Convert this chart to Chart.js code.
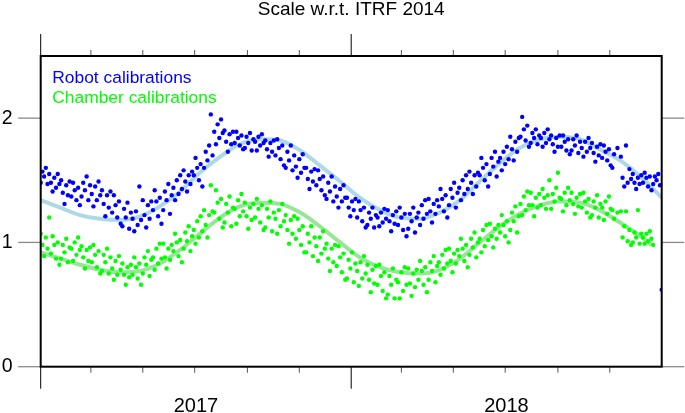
<!DOCTYPE html>
<html><head><meta charset="utf-8">
<script src="https://cdn.jsdelivr.net/npm/chart.js@4/dist/chart.umd.min.js"></script>
<style>html,body{margin:0;padding:0;background:#fff}canvas{display:block}</style>
</head><body>
<canvas id="c" width="685" height="413"></canvas>
<script>
const chartTitle = 'Scale w.r.t. ITRF 2014';
const seriesNames = ['Robot calibrations', 'Chamber calibrations'];
const yTicks = [0, 1, 2];
const yearTicks = [0, 365];
const monthTicks = [59, 120, 181, 243, 304, 424, 485, 546, 608, 669];
const yearLabels = ['2017', '2018'];
const yearLabelDays = [182.5, 547.5];

// observation days since 2017-01-01
const obsDay = [
0,2,4,6,8,10, 12,14,16,18,20,22, 24,26,28,30,32,34, 36,38,40,42,44,46, 48,50,52,54,56,58,
60,62,64,66,68,70, 72,74,76,78,80,82, 84,86,88,90,92,94, 96,98,100,102,104,106, 108,110,112,114,116,118,
120,122,124,126,128,130, 132,134,136,138,140,142, 144,146,148,150,152,154, 156,158,160,162,164,166, 168,170,172,174,176,178,
180,182,184,186,188,190, 192,194,196,198,200,202, 204,206,208,210,212,214, 216,218,220,222,224,226, 228,230,232,234,236,238,
240,242,244,246,248,250, 252,254,256,258,260,262, 264,266,268,270,272,274, 276,278,280,282,284,286, 288,290,292,294,296,298,
300,302,304,306,308,310, 312,314,316,318,320,322, 324,326,328,330,332,334, 336,338,340,342,344,346, 348,350,352,354,356,358,
360,362,364,366,368,370, 372,374,376,378,380,382, 384,386,388,390,392,394, 396,398,400,402,404,406, 408,410,412,414,416,418,
420,422,424,426,428,430, 432,434,436,438,440,442, 444,446,448,450,452,454, 456,458,460,462,464,466, 468,470,472,474,476,478,
480,482,484,486,488,490, 492,494,496,498,500,502, 504,506,508,510,512,514, 516,518,520,522,524,526, 528,530,532,534,536,538,
540,542,544,546,548,550, 552,554,556,558,560,562, 564,566,568,570,572,574, 576,578,580,582,584,586, 588,590,592,594,596,598,
600,602,604,606,608,610, 612,614,616,618,620,622, 624,626,628,630,632,634, 636,638,640,642,644,646, 648,650,652,654,656,658,
660,662,664,666,668,670, 672,674,676,678,680,682, 684,686,688,690,692,694, 696,698,700,702,704,706, 708,710,712,714,716,718,
720,722,724,726,728,730
];

const robotScale = [
1.48,1.57,1.53,1.60,1.47,1.55, 1.48,1.41,1.52,1.44,1.55,1.47, 1.50,1.40,1.31,1.46,1.38,1.49, 1.37,1.48,1.42,1.34,1.44,1.30, 1.37,1.48,1.42,1.53,1.34,1.46,
1.39,1.29,1.45,1.34,1.49,1.38, 1.42,1.31,1.21,1.38,1.28,1.41, 1.24,1.38,1.30,1.20,1.33,1.15, 1.13,1.27,1.20,1.32,1.11,1.24, 1.19,1.09,1.25,1.14,1.45,1.18,
1.34,1.22,1.12,1.30,1.19,1.33, 1.26,1.42,1.33,1.21,1.36,1.15, 1.26,1.41,1.34,1.47,1.23,1.38, 1.44,1.34,1.50,1.39,1.54,1.43, 1.58,1.49,1.41,1.54,1.47,1.57,
1.54,1.68,1.60,1.50,1.63,1.45, 1.60,1.73,1.66,1.78,2.03,1.70, 1.89,1.79,1.95,1.84,1.99,1.88, 1.90,1.81,1.73,1.87,1.79,1.89, 1.80,1.89,1.84,1.78,1.86,1.75,
1.76,1.85,1.80,1.88,1.74,1.83, 1.81,1.74,1.85,1.78,1.87,1.80, 1.82,1.75,1.69,1.80,1.73,1.82, 1.70,1.83,1.76,1.67,1.78,1.62, 1.60,1.73,1.66,1.78,1.58,1.70,
1.61,1.52,1.67,1.56,1.71,1.60, 1.60,1.51,1.43,1.57,1.49,1.59, 1.46,1.58,1.51,1.42,1.53,1.38, 1.35,1.48,1.41,1.53,1.33,1.45, 1.37,1.28,1.43,1.33,1.46,1.36,
1.36,1.28,1.21,1.33,1.26,1.35, 1.20,1.33,1.26,1.17,1.28,1.12, 1.14,1.24,1.19,1.28,1.12,1.22, 1.20,1.13,1.24,1.16,1.27,1.19, 1.26,1.17,1.09,1.22,1.15,1.25,
1.14,1.28,1.20,1.10,1.23,1.05, 1.11,1.23,1.17,1.28,1.08,1.20, 1.24,1.14,1.30,1.19,1.34,1.23, 1.35,1.25,1.16,1.31,1.23,1.34, 1.29,1.43,1.35,1.25,1.38,1.20,
1.30,1.43,1.36,1.48,1.28,1.40, 1.44,1.34,1.50,1.39,1.54,1.43, 1.57,1.48,1.39,1.54,1.45,1.56, 1.54,1.68,1.60,1.50,1.63,1.45, 1.55,1.68,1.61,1.73,1.53,1.65,
1.68,1.58,1.73,1.63,1.77,1.67, 1.85,1.75,1.66,1.81,1.73,1.84, 1.85,2.01,1.91,1.82,1.94,1.77, 1.80,1.88,1.84,1.91,1.79,1.86, 1.84,1.77,1.88,1.80,1.91,1.83,
1.86,1.79,1.73,1.84,1.77,1.86, 1.77,1.86,1.81,1.74,1.83,1.71, 1.74,1.83,1.78,1.86,1.72,1.81, 1.76,1.69,1.81,1.73,1.84,1.76, 1.80,1.72,1.65,1.77,1.70,1.79,
1.68,1.78,1.73,1.66,1.75,1.62, 1.60,1.71,null,1.76,null,1.69, 1.52,1.45,1.78,1.48,1.59,1.51, 1.55,1.48,1.43,1.52,1.47,1.54, 1.48,1.56,1.52,1.45,1.53,1.42,
1.47,1.53,1.50,1.55,1.46,0.62
];

const chamberScale = [
1.07,0.98,0.89,1.04,0.95,1.20, 0.91,1.05,0.98,0.87,1.00,0.82, 0.87,0.98,0.92,1.03,0.84,0.96, 0.95,0.85,1.00,0.90,1.04,0.94, 0.97,0.88,0.79,0.94,0.85,0.96,
0.84,0.98,0.90,0.80,0.93,0.75, 0.77,0.90,0.84,0.95,0.75,0.88, 0.79,0.70,0.85,0.74,0.89,0.78, 0.83,0.74,0.66,0.80,0.72,0.82, 0.74,0.88,0.80,0.71,0.83,0.66,
0.75,0.88,0.82,0.93,0.73,0.86, 0.88,0.78,0.95,0.83,0.99,0.87, 0.99,0.88,0.79,0.95,0.86,0.98, 0.93,1.07,1.00,0.89,1.02,0.84, 0.95,1.08,1.01,1.13,0.93,1.05,
1.10,0.99,1.17,1.04,1.21,1.09, 1.26,1.14,1.04,1.22,1.46,1.25, 1.24,1.42,1.32,1.19,1.35,1.12, 1.16,1.31,1.24,1.37,1.13,1.28, 1.27,1.15,1.34,1.21,1.39,1.25,
1.32,1.21,1.11,1.28,1.18,1.31, 1.20,1.35,1.27,1.16,1.30,1.10, 1.12,1.27,1.20,1.33,1.09,1.24, 1.19,1.07,1.26,1.13,1.31,1.17, 1.22,1.10,0.99,1.18,1.07,1.21,
1.03,1.19,1.10,0.98,1.13,0.92, 0.92,1.07,1.00,1.13,0.89,1.04, 0.97,0.85,1.04,0.91,1.09,0.95, 0.99,0.87,0.77,0.95,0.84,0.98, 0.81,0.97,0.88,0.76,0.91,0.70,
0.71,0.86,0.79,0.92,0.68,0.83, 0.77,0.65,0.84,0.71,0.89,0.75, 0.82,0.70,0.60,0.78,0.67,0.81, 0.66,0.82,0.73,0.61,0.76,0.55, 0.58,0.73,0.66,0.79,0.55,0.70,
0.68,0.55,0.76,0.61,0.80,0.66, 0.79,0.67,0.57,0.75,0.64,0.78, 0.70,0.85,0.77,0.66,0.80,0.60, 0.70,0.84,0.77,0.89,0.68,0.81, 0.84,0.74,0.90,0.79,0.94,0.83,
0.95,0.85,0.76,0.91,0.83,0.94, 0.89,1.03,0.95,0.85,0.98,0.80, 0.90,1.03,0.96,1.08,0.88,1.00, 1.03,0.92,1.10,0.97,1.14,1.02, 1.15,1.05,0.96,1.11,1.03,1.14,
1.08,1.22,1.14,1.05,1.17,1.00, 1.10,1.24,1.17,1.29,1.08,1.21, 1.31,1.22,1.37,1.26,1.41,1.30, 1.40,1.30,1.21,1.36,1.28,1.39, 1.30,1.43,1.36,1.27,1.38,1.50,
1.27,1.39,1.33,1.44,1.56,1.36, 1.35,1.25,1.40,1.30,1.44,1.34, 1.40,1.31,1.23,1.36,1.29,1.39, 1.28,1.40,1.33,1.24,1.35,1.20, 1.22,1.33,1.28,1.38,1.20,1.31,
1.28,1.18,1.33,1.23,1.37,1.27, 1.26,1.19,null,1.24,null,1.25, 1.04,1.13,1.25,1.01,1.10,0.98, 1.00,1.08,1.04,1.26,0.99,1.07, 1.04,0.99,1.07,1.01,1.09,1.03,
0.98,null,null,null,null,null
];

// fitted curves
const robotFitDay = [0,23,46,70,93,117,140,164,187,211,234,258,281,305,328,352,375,399,422,446,469,493,516,540,563,587,610,634,657,681,705,730];
const robotFit = [1.34,1.28,1.22,1.19,1.18,1.21,1.29,1.41,1.56,1.69,1.79,1.83,1.82,1.74,1.62,1.49,1.36,1.26,1.20,1.19,1.24,1.34,1.49,1.64,1.76,1.83,1.85,1.83,1.75,1.66,1.53,1.36];
const chamberFitDay = [0,23,46,70,93,117,140,164,187,211,234,258,281,305,328,352,375,399,422,446,469,493,516,540,563,587,610,634,657,681,705,718];
const chamberFit = [0.92,0.87,0.82,0.78,0.76,0.77,0.83,0.94,1.07,1.20,1.29,1.32,1.31,1.24,1.13,1.00,0.88,0.80,0.76,0.75,0.78,0.87,1.00,1.13,1.23,1.30,1.33,1.32,1.26,1.16,1.05,0.98];

const FONT = '"Liberation Sans", Arial, Helvetica, sans-serif';

function pts(xs, ys) {
  const out = [];
  for (let i = 0; i < xs.length; i++) {
    if (ys[i] !== null && ys[i] !== undefined) out.push({x: xs[i], y: ys[i]});
  }
  return out;
}

const decor = {
  id: 'decor',
  afterDraw(chart) {
    const ctx = chart.ctx, a = chart.chartArea, x = chart.scales.x, y = chart.scales.y;
    function line(x1, y1, x2, y2) { ctx.beginPath(); ctx.moveTo(x1, y1); ctx.lineTo(x2, y2); ctx.stroke(); }
    ctx.save();
    // y ticks (outside, both sides)
    ctx.strokeStyle = '#8a8a8a'; ctx.lineWidth = 1.3;
    yTicks.forEach(v => {
      const py = y.getPixelForValue(v);
      line(a.left - 22.5, py, a.left, py);
      line(a.right, py, a.right + 22.5, py);
    });
    // major x ticks (year boundaries)
    ctx.strokeStyle = '#000'; ctx.lineWidth = 1;
    yearTicks.forEach(d => {
      const px = x.getPixelForValue(d);
      line(px, a.top - 22, px, a.top);
      line(px, a.bottom, px, a.bottom + 22);
    });
    // minor x ticks (every two months)
    ctx.strokeStyle = '#555';
    monthTicks.forEach(d => {
      const px = x.getPixelForValue(d);
      line(px, a.top - 6, px, a.top);
      line(px, a.bottom, px, a.bottom + 6);
    });
    // frame
    ctx.strokeStyle = '#000'; ctx.lineWidth = 2;
    ctx.strokeRect(a.left, a.top, a.right - a.left, a.bottom - a.top);
    // tick labels
    ctx.fillStyle = '#000';
    ctx.font = '19.5px ' + FONT;
    ctx.textAlign = 'right'; ctx.textBaseline = 'middle';
    yTicks.forEach(v => ctx.fillText(String(v), a.left - 28, y.getPixelForValue(v)));
    ctx.font = '20px ' + FONT;
    ctx.textAlign = 'center'; ctx.textBaseline = 'alphabetic';
    yearLabels.forEach((t, i) => ctx.fillText(t, x.getPixelForValue(yearLabelDays[i]), a.bottom + 45));
    // legend text
    ctx.textAlign = 'left';
    ctx.font = '17.4px ' + FONT;
    ctx.fillStyle = '#0000ff';
    ctx.fillText(seriesNames[0], a.left + 11.6, a.top + 27.3);
    ctx.fillStyle = '#00ff00';
    ctx.fillText(seriesNames[1], a.left + 11.6, a.top + 46.7);
    ctx.restore();
  }
};

new Chart(document.getElementById('c'), {
  type: 'scatter',
  data: {
    datasets: [
      {label: seriesNames[0], data: pts(obsDay, robotScale), pointRadius: 2.2, pointBorderWidth: 0,
       backgroundColor: '#0000ff', pointBackgroundColor: '#0000ff', order: 1},
      {label: seriesNames[1], data: pts(obsDay, chamberScale), pointRadius: 2.2, pointBorderWidth: 0,
       backgroundColor: '#00ff00', pointBackgroundColor: '#00ff00', order: 1},
      {label: 'Robot fit', type: 'line', data: pts(robotFitDay, robotFit), showLine: true, pointRadius: 0,
       borderColor: '#add8e6', borderWidth: 4, fill: false, cubicInterpolationMode: 'monotone', order: 3},
      {label: 'Chamber fit', type: 'line', data: pts(chamberFitDay, chamberFit), showLine: true, pointRadius: 0,
       borderColor: 'rgb(150,230,150)', borderWidth: 4, fill: false, cubicInterpolationMode: 'monotone', order: 3}
    ]
  },
  options: {
    responsive: false,
    animation: false,
    devicePixelRatio: 1,
    layout: {padding: {left: 40.7, right: 23.3, top: 0, bottom: 46.3}},
    plugins: {
      legend: {display: false},
      tooltip: {enabled: false},
      title: {display: true, text: chartTitle, color: '#000',
              font: {family: FONT, size: 19, weight: 'normal', lineHeight: 1},
              padding: {top: 0, bottom: 37}}
    },
    scales: {
      x: {type: 'linear', min: 0, max: 730, display: false},
      y: {type: 'linear', min: 0, max: 2.5, display: false}
    }
  },
  plugins: [decor]
});
</script>
</body></html>
